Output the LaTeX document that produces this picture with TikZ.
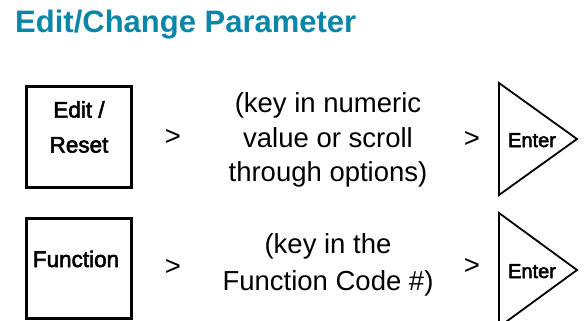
\documentclass[tikz,border=0pt]{standalone}
\usepackage{fontspec}
\setmainfont{Liberation Sans}
\newfontfamily\medfont[FakeBold=2.5]{Liberation Sans}
\definecolor{titleteal}{HTML}{0A86A9}
\tikzset{
  keybox/.style={draw=black, line width=3pt, minimum width=105pt, minimum height=100pt, inner sep=0pt},
  keylabel/.style={inner sep=0pt, font=\medfont\fontsize{22.5}{35}\selectfont, align=center},
  entertri/.style={draw=black, line width=1.8pt, line join=miter},
  enterlabel/.style={inner sep=0pt, font=\medfont\fontsize{20}{24}\selectfont},
  midtext/.style={inner sep=0pt, font=\fontsize{27.5}{34.5}\selectfont, align=center},
  gtsign/.style={inner sep=0pt, font=\fontsize{27.5}{30}\selectfont},
}
\begin{document}
\begin{tikzpicture}[x=1pt, y=-1pt]
\useasboundingbox (0,0) rectangle (584,321);
\clip (0,0) rectangle (584,321);
% title
\node[anchor=base west, inner sep=0pt, text=titleteal, font=\bfseries\fontsize{31}{36}\selectfont] (title) at (15,33) {Edit/Change Parameter};
% row 1
\node[keybox] (edit) at (78.5,137) {};
\node[keylabel] (editlbl) at (79,127) {Edit /\\Reset};
\node[gtsign] (gt1) at (173,137) {>};
\node[midtext] (mid1) at (328,140) {(key in numeric\\value or scroll\\through options)};
\node[gtsign] (gt2) at (472,139) {>};
\coordinate (t1a) at (499,83);
\coordinate (t1b) at (577,139);
\coordinate (t1c) at (499,195);
\draw[entertri] (t1a) -- (t1b) -- (t1c) -- cycle;
\node[enterlabel, anchor=base] (enter1) at (532,147) {Enter};
% row 2
\node[keybox] (func) at (78.5,268) {};
\node[keylabel, anchor=base] (funclbl) at (76,267) {Function};
\node[gtsign] (gt3) at (173,267) {>};
\node[midtext, font=\fontsize{27.5}{37}\selectfont] (mid2) at (328,265) {(key in the\\Function Code \#)};
\node[gtsign] (gt4) at (472,266) {>};
\coordinate (t2a) at (499,213);
\coordinate (t2b) at (577,270);
\coordinate (t2c) at (499,327);
\draw[entertri] (t2a) -- (t2b) -- (t2c) -- cycle;
\node[enterlabel, anchor=base] (enter2) at (532,278) {Enter};
\end{tikzpicture}
\end{document}
